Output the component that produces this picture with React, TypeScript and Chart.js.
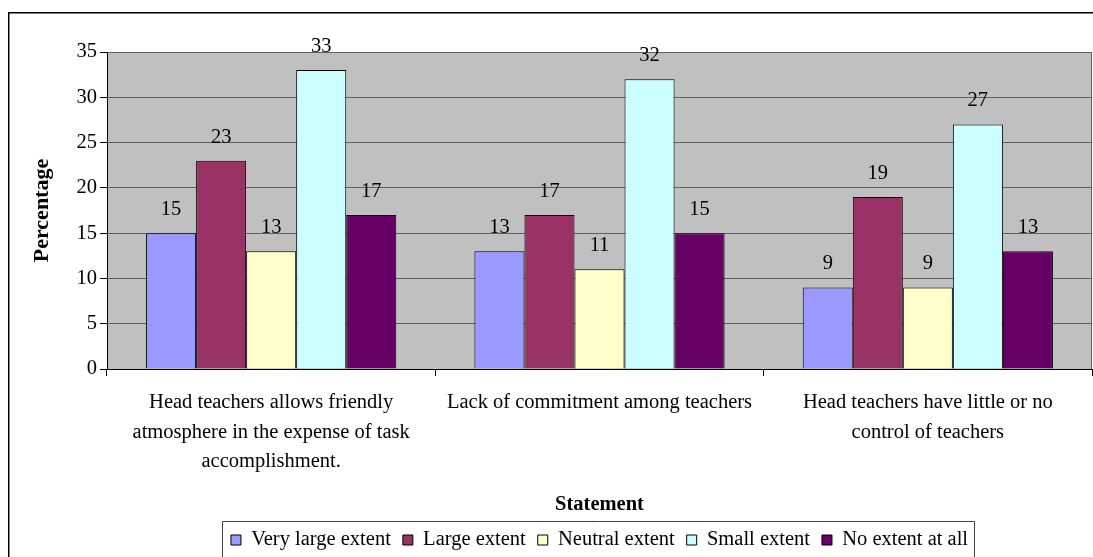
import React, { useEffect, useRef } from "react";
import { Chart, registerables } from "chart.js";

Chart.register(...registerables);

const categories: string[][] = [
  ["Head teachers allows friendly", "atmosphere in the expense of task", "accomplishment."],
  ["Lack of commitment among teachers"],
  ["Head teachers have little or no", "control of teachers"],
];
const seriesNames = ["Very large extent", "Large extent", "Neutral extent", "Small extent", "No extent at all"];
const veryLargeExtent = [15, 13, 9];
const largeExtent = [23, 17, 19];
const neutralExtent = [13, 11, 9];
const smallExtent = [33, 32, 27];
const noExtentAtAll = [17, 15, 13];
const seriesColors = ["#9999FF", "#993366", "#FFFFCC", "#CCFFFF", "#660066"];
const yTicks = [0, 5, 10, 15, 20, 25, 30, 35];

const FONT = "'Liberation Serif', 'Times New Roman', serif";
const FS = 20.5;

const frame = {
  id: "frame",
  beforeDraw(chart: any) {
    const { ctx, chartArea: a } = chart;
    ctx.save();
    ctx.fillStyle = "#C0C0C0";
    ctx.fillRect(a.left, a.top, a.right - a.left, a.bottom - a.top);
    ctx.strokeStyle = "#606060";
    ctx.lineWidth = 1;
    ctx.strokeRect(a.left + 0.5, a.top + 0.5, a.right - a.left - 1, a.bottom - a.top);
    ctx.restore();
  },
  afterDraw(chart: any) {
    const { ctx } = chart;
    ctx.save();
    // data labels
    ctx.fillStyle = "#000";
    ctx.font = `${FS}px ${FONT}`;
    ctx.textAlign = "center";
    ctx.textBaseline = "middle";
    chart.data.datasets.forEach((ds: any, i: number) => {
      const meta = chart.getDatasetMeta(i);
      meta.data.forEach((el: any, j: number) => {
        ctx.fillText(String(ds.data[j]), el.x, el.y - 23.5);
      });
    });
    // legend border
    const lg = chart.legend;
    if (lg && lg.legendHitBoxes && lg.legendHitBoxes.length) {
      const hb = lg.legendHitBoxes;
      const l = hb[0].left - 9;
      const last = hb[hb.length - 1];
      const r = last.left + last.width + 6;
      const t = hb[0].top - 9;
      ctx.strokeStyle = "#404040";
      ctx.lineWidth = 1;
      ctx.beginPath();
      ctx.moveTo(Math.round(l) + 0.5, chart.height + 5);
      ctx.lineTo(Math.round(l) + 0.5, Math.round(t) + 0.5);
      ctx.lineTo(Math.round(r) + 0.5, Math.round(t) + 0.5);
      ctx.lineTo(Math.round(r) + 0.5, chart.height + 5);
      ctx.stroke();
    }
    // outer border
    ctx.strokeStyle = "#000";
    ctx.lineWidth = 1.5;
    ctx.beginPath();
    ctx.moveTo(8.75, chart.height + 5);
    ctx.lineTo(8.75, 12.75);
    ctx.lineTo(chart.width + 5, 12.75);
    ctx.stroke();
    ctx.restore();
  },
};

export default function App() {
  const ref = useRef<HTMLCanvasElement | null>(null);
  useEffect(() => {
    if (!ref.current) return;
    const values = [veryLargeExtent, largeExtent, neutralExtent, smallExtent, noExtentAtAll];
    const chart = new Chart(ref.current, {
      type: "bar",
      data: {
        labels: categories,
        datasets: seriesNames.map((name, i) => ({
          label: name,
          data: values[i],
          backgroundColor: seriesColors[i],
          borderColor: "#000",
          borderWidth: 1,
          barPercentage: 1,
          categoryPercentage: 0.762,
        })),
      },
      options: {
        responsive: false,
        maintainAspectRatio: false,
        animation: false,
        layout: { padding: { left: 8, top: 52, right: 1, bottom: -3.25 } },
        plugins: {
          tooltip: { enabled: false },
          legend: {
            position: "bottom",
            fullSize: false,
            labels: {
              boxWidth: 10,
              boxHeight: 10,
              padding: 12,
              color: "#000",
              font: { family: FONT, size: FS },
            },
          },
        },
        scales: {
          x: {
            offset: true,
            grid: {
              display: true,
              drawOnChartArea: false,
              drawTicks: true,
              tickLength: 7,
              color: "#000",
              offset: true,
            },
            border: { display: true, color: "#000", width: 1 },
            ticks: {
              color: "#000",
              font: { family: FONT, size: FS, lineHeight: 29.5 / FS },
              padding: 12.25,
              maxRotation: 0,
              minRotation: 0,
              autoSkip: false,
            },
            title: {
              display: true,
              text: "Statement",
              color: "#000",
              font: { family: FONT, size: FS, weight: "bold", lineHeight: 1.2 },
              padding: { top: 0, bottom: 0.5 },
            },
            afterFit(scale: any) {
              scale.height = 148.75;
            },
          },
          y: {
            min: 0,
            max: 35,
            afterBuildTicks(scale: any) {
              scale.ticks = yTicks.map((v) => ({ value: v }));
            },
            grid: {
              color: (c: any) => (c.tick && c.tick.value === 0 ? "#000" : "#606060"),
              tickColor: "#000",
              tickLength: 7,
              drawTicks: true,
            },
            border: { display: true, color: "#000", width: 1 },
            ticks: {
              color: "#000",
              font: { family: FONT, size: FS },
              padding: 3,
            },
            title: {
              display: true,
              text: "Percentage",
              color: "#000",
              font: { family: FONT, size: 22, weight: "bold", lineHeight: 1.2 },
              padding: { top: 20.8, bottom: 0 },
            },
            afterFit(scale: any) {
              scale.width = 99;
            },
          },
        },
      },
      plugins: [frame],
    } as any);
    return () => chart.destroy();
  }, []);
  return (
    <div style={{ position: "fixed", left: 0, top: 0, width: 1093, height: 557, background: "#fff" }}>
      <canvas ref={ref} width={1093} height={557} style={{ display: "block" }} />
    </div>
  );
}
